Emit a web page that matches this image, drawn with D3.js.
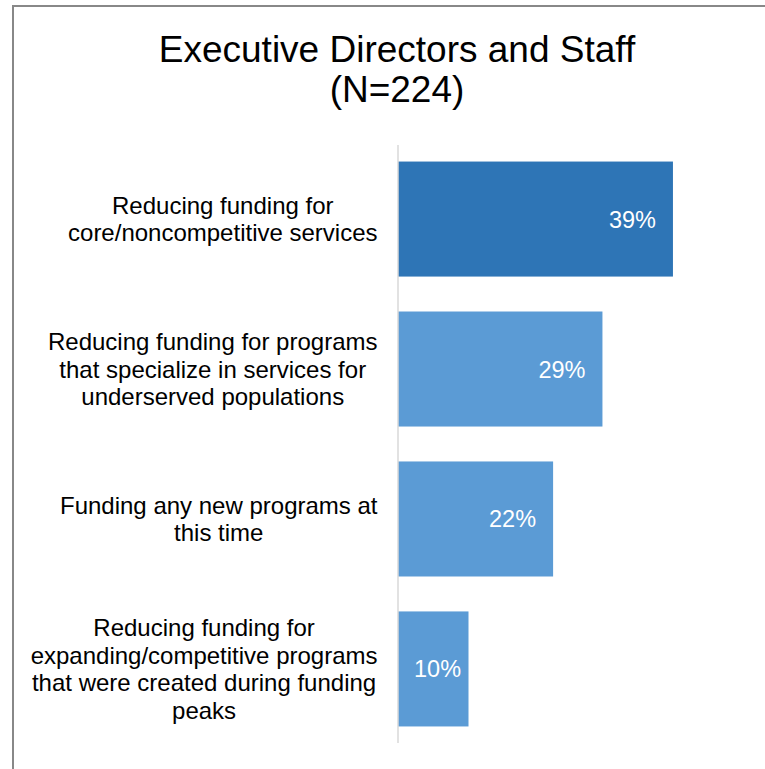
<!DOCTYPE html>
<html>
<head>
<meta charset="utf-8">
<script src="https://cdn.jsdelivr.net/npm/d3@7"></script>
<style>
  body { margin: 0; background: #fff; }
  svg { display: block; font-family: Arial, "Liberation Sans", sans-serif; }
</style>
</head>
<body>
<svg id="chart" width="765" height="769"></svg>
<script>
// ----------- Data ------------
const categories = [
  ["Reducing funding for", "core/noncompetitive services"],
  ["Reducing funding for programs", "that specialize in services for", "underserved populations"],
  ["Funding any new programs at", "this time"],
  ["Reducing funding for", "expanding/competitive programs", "that were created during funding", "peaks"]
];
const values = [39, 29, 22, 10];
const barColors = ["#2E75B6", "#5B9BD5", "#5B9BD5", "#5B9BD5"];
const titleLines = ["Executive Directors and Staff", "(N=224)"];

// ----------- Layout ------------
const W = 765, H = 769;
const svg = d3.select("#chart");

// frame (only top/left edges visible in the picture)
svg.append("rect")
  .attr("x", 13).attr("y", 6)
  .attr("width", W + 20).attr("height", H + 20)
  .attr("fill", "none")
  .attr("stroke", "#888")
  .attr("stroke-width", 2);

// title
svg.append("text")
  .attr("text-anchor", "middle")
  .attr("font-size", 37)
  .attr("fill", "#000")
  .selectAll("tspan")
  .data(titleLines)
  .enter()
  .append("tspan")
  .attr("x", 397)
  .attr("y", (d, i) => 62 + i * 40)
  .text(d => d);

// scales
const x = d3.scaleLinear().domain([0, 50]).range([398, 398 + 352.5]);
const y = d3.scaleBand()
  .domain(d3.range(values.length))
  .range([144, 744])
  .paddingInner(0.233)
  .paddingOuter(0.117);

// bars
svg.selectAll("rect.bar")
  .data(values)
  .enter()
  .append("rect")
  .attr("class", "bar")
  .attr("x", x(0))
  .attr("y", (d, i) => y(i))
  .attr("width", d => x(d) - x(0))
  .attr("height", y.bandwidth())
  .attr("fill", (d, i) => barColors[i]);

// axis line
svg.append("line")
  .attr("x1", x(0)).attr("x2", x(0))
  .attr("y1", 145).attr("y2", 743)
  .attr("stroke", "#d9d9d9")
  .attr("stroke-width", 1.5);

// value labels (inside end, pushed right when the bar is short)
svg.selectAll("text.val")
  .data(values)
  .enter()
  .append("text")
  .attr("class", "val")
  .attr("font-size", 23.5)
  .attr("fill", "#fff")
  .attr("text-anchor", "end")
  .attr("y", (d, i) => y(i) + y.bandwidth() / 2 + 8.5)
  .text(d => d + "%")
  .attr("x", function(d) {
    const w = this.getComputedTextLength();
    return Math.max(x(d) - 17, x(0) + 16 + w);
  });

// category labels: each wrapped block is right-aligned, lines centred inside it
const lineH = 27.5;
const labelRight = 377.5;
categories.forEach((lines, i) => {
  const cy = y(i) + y.bandwidth() / 2;
  const top = cy - (lines.length - 1) * lineH / 2;
  const g = svg.append("text")
    .attr("text-anchor", "middle")
    .attr("font-size", 24)
    .attr("fill", "#000");
  const spans = g.selectAll("tspan")
    .data(lines)
    .enter()
    .append("tspan")
    .attr("y", (d, j) => top + j * lineH + 8.5)
    .text(d => d);
  const maxW = d3.max(spans.nodes(), n => n.getComputedTextLength());
  spans.attr("x", labelRight - maxW / 2);
});
</script>
</body>
</html>
